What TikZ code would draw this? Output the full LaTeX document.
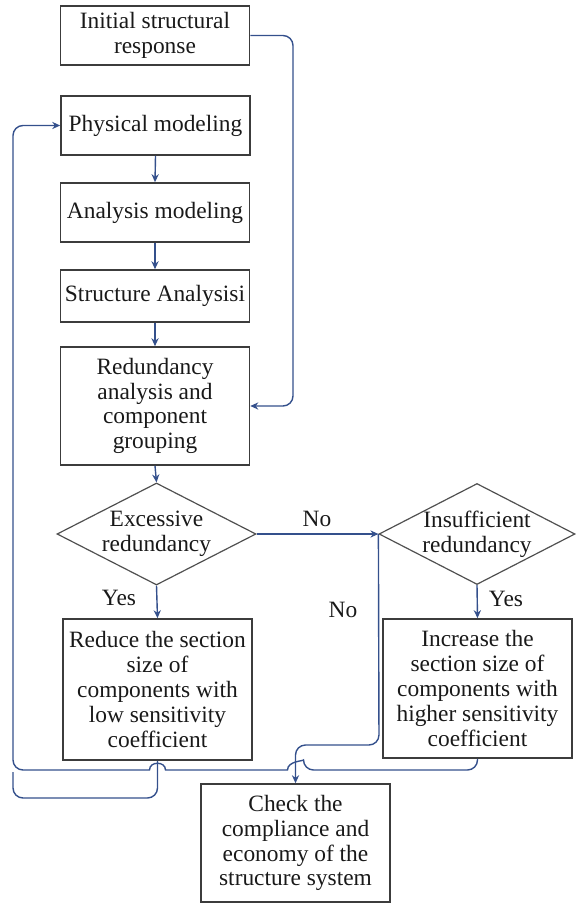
\documentclass[tikz,border=0pt]{standalone}
\usepackage{fontspec}
\setmainfont{Liberation Serif}
\usetikzlibrary{shapes.geometric,arrows.meta}
\definecolor{lnc}{RGB}{52,80,140}
\definecolor{bdc}{RGB}{60,60,60}
\definecolor{txc}{RGB}{25,25,25}
\tikzset{
  box/.style={draw=bdc, line width=0.8pt, minimum width=94.5pt, align=center, inner sep=0pt, text=txc},
  dia/.style={diamond, draw=bdc!90, line width=0.6pt, inner sep=0pt},
  lbl/.style={align=center, inner sep=0pt, text=txc},
  lnk/.style={draw=lnc, line width=0.7pt},
  conn/.style={lnk, -{Stealth[length=4pt,width=3.6pt]}}
}
\begin{document}
\begin{tikzpicture}[x=0.5pt,y=-0.5pt,font=\fontsize{11.7}{12.4}\selectfont]
\useasboundingbox (0,0) rectangle (576,903);
% boxes
\node[box, minimum height=29.5pt] (init) at (155,35.5) {Initial structural\\response};
\node[box, minimum height=29.5pt] (phys) at (155.5,125.5) {Physical modeling};
\node[box, minimum height=29.5pt] (anal) at (155,212.5) {Analysis modeling};
\node[box, minimum height=26pt] (stru) at (155,296) {Structure Analysisi};
\node[box, minimum height=59pt] (redu) at (155,406) {Redundancy\\analysis and\\component\\grouping};
\node[dia, minimum width=99.5pt, minimum height=51pt] (exc) at (156.5,534) {};
\node[lbl] (excT) at (exc) {Excessive\\redundancy};
\node[dia, minimum width=98pt, minimum height=50.5pt] (ins) at (477,534) {};
\node[lbl] (insT) at (ins) {Insufficient\\redundancy};
\node[box, minimum height=70.5pt] (red) at (157.5,689.5) {Reduce the section\\size of\\components with\\low sensitivity\\coefficient};
\node[box, minimum height=69.5pt] (inc) at (477.5,688.5) {Increase the\\section size of\\components with\\higher sensitivity\\coefficient};
\node[box, minimum height=59pt] (chk) at (295.5,843) {Check the\\compliance and\\economy of the\\structure system};
% labels
\node[lbl] (no1) at (317,519) {No};
\node[lbl] (yes1) at (119,598) {Yes};
\node[lbl] (no2) at (343,610) {No};
\node[lbl] (yes2) at (506,599) {Yes};
% straight connectors
\draw[conn] (phys.south) -- (anal.north);
\draw[conn] (anal.south) -- (stru.north);
\draw[conn] (stru.south) -- (redu.north);
\draw[conn] (redu.south) -- (exc.north);
\draw[conn] (exc.south) -- (red.north);
\draw[conn] (ins.south) -- (inc.north);
\draw[conn] (exc.east) -- (ins.west);
% initial response to redundancy
\coordinate (c1) at (293,35.5);
\draw[conn, rounded corners=5pt] (init.east) -- (c1) |- (redu.east);
% insufficient "No" to check
\coordinate (c2) at (379,745);
\draw[conn, rounded corners=5pt] (ins.west) -- (c2) -| (chk.north);
% loop from increase back to physical modeling (with hops)
\coordinate (c3) at (13,770);
\draw[conn] (inc.south) [rounded corners=5pt] |- (303.5,770) [sharp corners]
  .. controls (303.5,761) and (287.5,761) .. (287.5,770) -- (165.5,770)
  .. controls (165.5,761) and (149.5,761) .. (149.5,770)
  [rounded corners=5pt] -- (c3) |- (phys.west);
% loop from reduce
\coordinate (c4) at (13,798);
\draw[lnk, rounded corners=5pt] (red.south) |- (c4) -- (13,772);
\end{tikzpicture}
\end{document}
